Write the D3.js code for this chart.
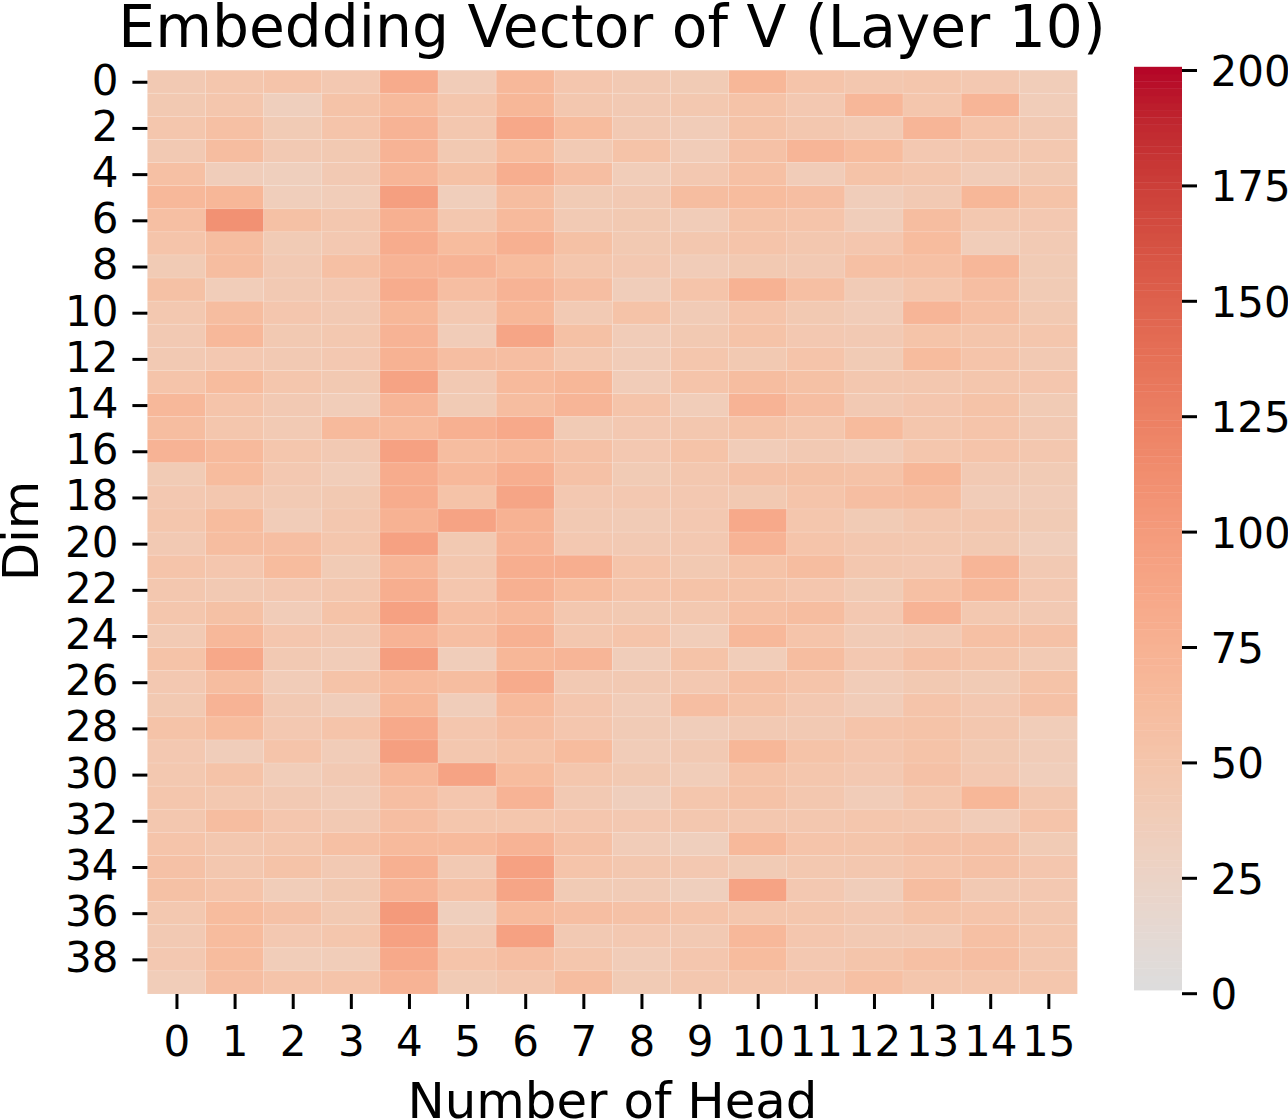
<!DOCTYPE html>
<html>
<head>
<meta charset="utf-8">
<script src="https://cdn.jsdelivr.net/npm/d3@7/dist/d3.min.js"></script>
<style>
html,body{margin:0;padding:0;background:#fff;overflow:hidden}
svg{display:block}
text{font-family:"DejaVu Sans",sans-serif;fill:#000}
</style>
</head>
<body>
<svg id="chart" width="1288" height="1120"></svg>
<script>
// Mean embedding magnitude per head (columns) and embedding dimension (rows).
const headLabels = d3.range(16).map(String);
const dimLabels = d3.range(0, 40, 2).map(String);
const dimValues = [
  [42,48,50,44,82,38,66,47,42,40,68,50,46,48,44,37],
  [43,48,33,52,64,48,68,46,42,45,52,44,67,48,70,37],
  [48,56,40,50,72,46,85,62,42,38,52,46,41,70,50,42],
  [42,60,42,43,72,43,62,41,52,38,54,70,62,44,46,45],
  [56,36,33,42,70,55,78,58,37,44,56,38,52,48,38,43],
  [66,68,35,37,95,35,60,40,42,60,62,58,36,42,68,52],
  [57,108,55,46,76,46,64,41,43,38,52,50,36,60,45,44],
  [50,60,40,44,80,62,76,55,43,46,50,46,47,62,37,41],
  [40,60,42,56,72,72,62,48,44,38,43,42,56,56,67,40],
  [55,37,42,44,80,58,72,58,36,50,74,57,39,48,58,40],
  [45,60,47,42,68,44,68,41,52,39,50,43,38,70,57,43],
  [42,66,43,45,72,38,88,55,38,43,52,44,42,51,49,48],
  [42,44,42,44,74,58,58,45,38,48,43,50,40,62,50,42],
  [50,62,48,43,90,42,64,68,38,50,60,55,46,46,48,47],
  [66,50,42,37,70,40,60,70,50,37,72,58,42,47,52,40],
  [60,48,41,64,64,76,84,40,44,46,52,48,63,48,50,42],
  [72,64,48,42,92,60,65,54,44,52,38,42,38,48,50,46],
  [40,62,44,37,80,66,78,54,40,46,54,55,53,68,42,40],
  [44,46,41,43,80,52,88,44,44,44,43,50,58,60,38,38],
  [48,62,38,46,74,90,74,42,39,44,84,48,40,46,46,40],
  [42,60,58,48,92,43,72,44,42,44,72,50,46,45,43,35],
  [50,47,62,40,70,46,78,78,50,43,52,60,46,44,70,42],
  [46,42,44,46,78,47,76,62,50,52,52,47,40,56,66,44],
  [48,55,38,52,92,58,66,46,43,45,56,60,44,72,45,42],
  [41,66,47,42,72,58,75,46,50,37,66,50,39,42,56,54],
  [52,85,42,38,96,36,68,70,36,52,37,60,44,54,49,41],
  [44,60,38,52,64,60,82,42,42,44,56,50,38,43,40,52],
  [43,72,42,36,68,36,64,47,38,58,52,44,38,50,44,54],
  [52,62,44,50,84,47,58,47,39,36,42,42,50,52,46,37],
  [44,36,50,38,95,46,52,62,38,42,68,52,47,52,43,38],
  [45,52,37,42,66,90,62,48,43,37,52,48,44,54,44,35],
  [48,45,42,38,58,47,72,42,34,48,53,46,38,48,68,46],
  [46,60,47,42,58,48,48,47,44,46,46,46,48,46,38,50],
  [50,46,48,56,64,64,72,54,38,33,65,50,49,54,54,40],
  [54,46,52,42,76,42,92,50,46,44,40,45,46,50,54,47],
  [55,50,37,43,72,54,88,40,39,33,90,44,36,60,42,44],
  [45,62,54,43,100,33,64,58,54,50,48,48,44,52,50,46],
  [42,62,44,48,92,42,92,42,44,42,66,47,42,42,56,48],
  [44,62,37,37,84,50,58,48,38,47,62,44,49,56,58,46],
  [37,58,50,50,72,40,46,60,40,46,48,47,56,48,48,48]
];
const colorTicks = [0, 25, 50, 75, 100, 125, 150, 175, 200];

// Warm half of the coolwarm map, sampled every 1/32 from its grey midpoint.
const warmRed   = [.865,.898,.924,.944,.959,.967,.970,.967,.958,.944,.924,.899,.869,.835,.796,.753,.706];
const warmGreen = [.865,.849,.827,.801,.770,.734,.694,.650,.603,.552,.497,.440,.378,.313,.241,.157,.016];
const warmBlue  = [.865,.825,.775,.722,.668,.618,.572,.528,.482,.432,.385,.340,.298,.258,.220,.185,.149];

const colorStops = warmRed.map((r, i) => d3.rgb(r * 255, warmGreen[i] * 255, warmBlue[i] * 255));
const color = d3.scaleLinear()
  .domain(d3.range(colorStops.length).map(i => i * 200 / (colorStops.length - 1)))
  .range(colorStops)
  .interpolate(d3.interpolateRgb);

const svg = d3.select("#chart");

const plot = {left: 147.4, right: 1077.4, top: 70.2, bottom: 994};
const x = d3.scaleBand().domain(d3.range(16)).range([plot.left, plot.right]);
const y = d3.scaleBand().domain(d3.range(40)).range([plot.top, plot.bottom]);

// Heat cells
svg.append("g").selectAll("g")
  .data(dimValues)
  .join("g")
  .attr("transform", (_, r) => `translate(0,${y(r)})`)
  .selectAll("rect")
  .data(d => d)
  .join("rect")
  .attr("x", (_, c) => x(c))
  .attr("width", x.bandwidth())
  .attr("height", y.bandwidth())
  .attr("fill", d => color(d))
  .attr("stroke", "rgba(255,255,255,0.1)")
  .attr("stroke-width", 1);

// Axes
const tickFont = 42;
function styleAxis(g, w, shift) {
  g.select(".domain").remove();
  g.selectAll(".tick line").attr("stroke", "#000").attr("stroke-width", w);
  g.selectAll(".tick text").attr("font-size", tickFont).attr("font-family", '"DejaVu Sans"')
    .attr("fill", "#000").attr("transform", `translate(0,${shift})`);
}

const xAxis = d3.axisBottom(d3.scalePoint().domain(headLabels).range([x(0) + x.bandwidth() / 2, x(15) + x.bandwidth() / 2]))
  .tickSize(15).tickPadding(17);
svg.append("g").attr("transform", `translate(0,${plot.bottom})`).call(xAxis).call(styleAxis, 3, 0);

const yAxis = d3.axisLeft(d3.scalePoint().domain(dimLabels).range([y(0) + y.bandwidth() / 2, y(38) + y.bandwidth() / 2]))
  .tickSize(15).tickPadding(14);
svg.append("g").attr("transform", `translate(${plot.left},0)`).call(yAxis).call(styleAxis, 3, -1);

// Titles
svg.append("text").attr("x", 612).attr("y", 47).attr("text-anchor", "middle")
  .attr("font-size", 58.3).text("Embedding Vector of V (Layer 10)");
svg.append("text").attr("x", 612.5).attr("y", 1118).attr("text-anchor", "middle")
  .attr("font-size", 49.8).text("Number of Head");
svg.append("text").attr("transform", "translate(38,531) rotate(-90)").attr("text-anchor", "middle")
  .attr("font-size", 49.8).text("Dim");

// Colour bar, built from the discrete colormap levels
const barBox = {left: 1134, right: 1182, top: 66.8, bottom: 990};
const barScale = d3.scaleLinear().domain([0, 200]).range([barBox.bottom, barBox.top]);
const levels = d3.range(0, 200, 200 / 128);
svg.append("g").selectAll("rect")
  .data(levels)
  .join("rect")
  .attr("x", barBox.left)
  .attr("width", barBox.right - barBox.left)
  .attr("y", d => barScale(d + 200 / 128))
  .attr("height", d => barScale(d) - barScale(d + 200 / 128) + 0.4)
  .attr("fill", d => color(d + 100 / 128));

const tickScale = d3.scaleLinear().domain([0, 200]).range([993.2, 70]);
const barAxis = d3.axisRight(tickScale).tickValues(colorTicks).tickSize(15).tickPadding(13.5);
svg.append("g").attr("transform", `translate(${barBox.right},0)`).call(barAxis).call(styleAxis, 3, 2);
</script>
</body>
</html>
